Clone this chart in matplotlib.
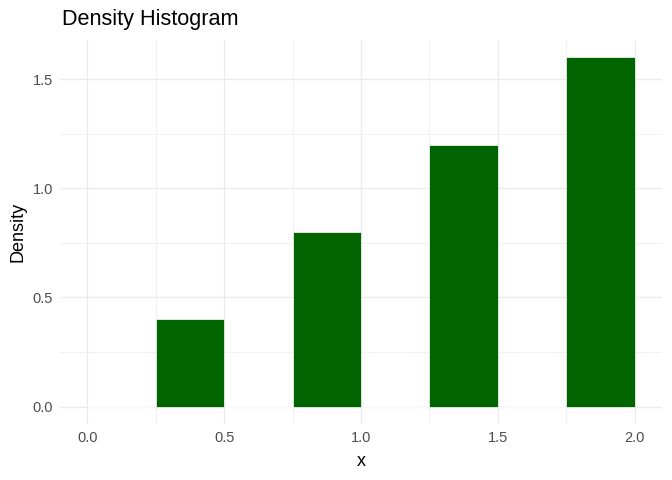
import matplotlib
matplotlib.use("Agg")
import matplotlib.pyplot as plt
import numpy as np

bin_left = [0.0, 0.25, 0.5, 0.75, 1.0, 1.25, 1.5, 1.75]
bin_width = 0.25
density = [0.0, 0.4, 0.0, 0.8, 0.0, 1.2, 0.0, 1.6]
x_ticks = [0.0, 0.5, 1.0, 1.5, 2.0]
y_ticks = [0.0, 0.5, 1.0, 1.5]

plt.rcParams['font.family'] = ['Liberation Sans', 'DejaVu Sans']

fig = plt.figure(figsize=(6.72, 4.8), dpi=100)
ax = fig.add_axes([60/672, 56/480, 602/672, 384/480])

ax.bar(bin_left, density, width=bin_width, align='edge', color='#006400',
       edgecolor='white', linewidth=0.5, zorder=3)

ax.set_xlim(-0.1, 2.1)
ax.set_ylim(-0.08, 1.68)
ax.set_xticks(x_ticks)
ax.set_xticklabels([f"{v:.1f}" for v in x_ticks])
ax.set_yticks(y_ticks)
ax.set_yticklabels([f"{v:.1f}" for v in y_ticks])
ax.set_xticks([0.25, 0.75, 1.25, 1.75], minor=True)
ax.set_yticks([0.25, 0.75, 1.25], minor=True)

ax.grid(True, which='major', color='#EBEBEB', linewidth=1.0, zorder=0)
ax.grid(True, which='minor', color='#EBEBEB', linewidth=0.5, zorder=0)
ax.set_axisbelow(True)
for s in ax.spines.values():
    s.set_visible(False)
ax.tick_params(which='both', length=0)
ax.tick_params(axis='both', labelsize=10.5, labelcolor='#4D4D4D', pad=5)

ax.set_xlabel('x', fontsize=13, color='black', labelpad=6)
ax.set_ylabel('Density', fontsize=13, color='black', labelpad=4)
fig.text(62/672, 1 - 19/480, 'Density Histogram', fontsize=15.6, color='black',
         ha='left', va='center')

fig.savefig('out.png', dpi=100, facecolor='white')
